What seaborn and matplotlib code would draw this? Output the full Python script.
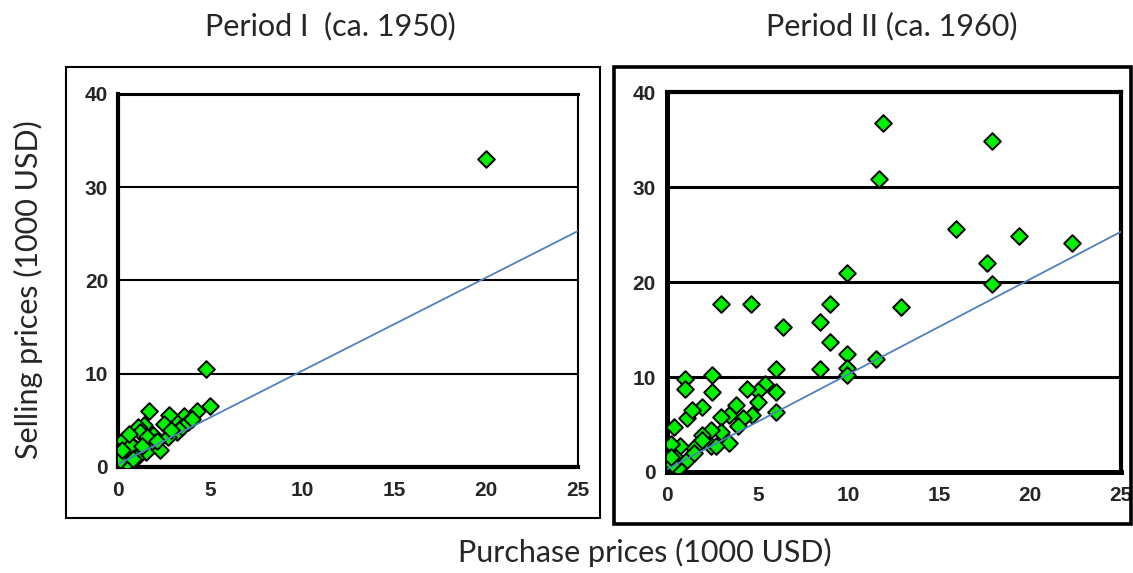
import seaborn as sns
import matplotlib.pyplot as plt
import pandas as pd
from matplotlib.patches import Rectangle

# Period I (ca. 1950): purchase vs selling prices, 1000 USD
p1_purchase = [20.0, 4.8, 5.0, 4.3, 1.7, 3.6, 3.0, 2.8, 2.5, 1.4, 1.1, 1.2, 1.9, 3.2,
               3.5, 2.7, 0.9, 0.3, 0.4, 1.9, 1.5, 0.5, 0.1, 1.6, 2.3, 0.7, 1.0, 2.1,
               0.2, 0.6, 3.8, 4.0, 2.9, 1.3, 0.8]
p1_selling = [33.0, 10.5, 6.5, 6.0, 6.0, 5.5, 5.1, 5.6, 4.6, 4.5, 4.3, 3.8, 3.4, 3.8,
              4.3, 3.2, 2.0, 2.9, 1.3, 2.6, 1.6, 0.4, 0.7, 3.2, 1.8, 2.4, 1.0, 2.8,
              1.8, 3.5, 4.8, 5.2, 4.0, 2.2, 0.9]

# Period II (ca. 1960)
p2_purchase = [11.9, 17.9, 11.7, 15.9, 19.4, 22.3, 17.6, 17.9, 9.9, 3.0, 4.6, 9.0,
               12.9, 6.4, 8.4, 9.0, 9.9, 11.5, 9.9, 9.9, 8.4, 6.0, 6.0, 6.0, 5.4,
               5.0, 5.0, 4.7, 4.4, 4.2, 3.8, 3.9, 3.4, 3.0, 3.0, 3.4, 2.5, 2.5, 2.4,
               1.9, 1.9, 1.0, 1.0, 1.1, 1.4, 1.5, 0.4, 0.7, 0.2, 0.5, 0.6, 1.1, 2.4,
               2.7, 1.9, 0.3, 0.2, 1.5]
p2_selling = [36.7, 34.8, 30.9, 25.6, 24.8, 24.1, 22.0, 19.8, 20.9, 17.7, 17.7, 17.7,
              17.4, 15.3, 15.8, 13.7, 12.4, 11.9, 10.9, 10.2, 10.8, 10.8, 8.4, 6.3,
              9.3, 8.5, 7.4, 6.0, 8.7, 5.7, 7.1, 4.8, 6.0, 5.8, 4.2, 3.1, 10.2, 8.4,
              4.4, 6.8, 3.9, 9.8, 8.7, 5.7, 6.5, 2.5, 4.7, 2.7, 2.9, 1.5, 0.4, 1.3,
              2.7, 2.7, 3.4, 0.8, 1.6, 2.0]

# reference line (selling = purchase)
line_x = [0, 25]
line_y = [0.3, 25.3]

x_ticks = [0, 5, 10, 15, 20, 25]
y_ticks = [0, 10, 20, 30, 40]

sns.set_style("white")
plt.rcParams['font.family'] = ['Liberation Sans', 'DejaVu Sans']
plt.rcParams['xtick.labelsize'] = 15
plt.rcParams['ytick.labelsize'] = 15
label_font = ["Lato", "DejaVu Sans"]

fig = plt.figure(figsize=(11.33, 5.73), dpi=100)

df1 = pd.DataFrame({"purchase": p1_purchase, "selling": p1_selling})
df2 = pd.DataFrame({"purchase": p2_purchase, "selling": p2_selling})
df_line = pd.DataFrame({"x": line_x, "y": line_y})

panels = [
    (df1, "Period I  (ca. 1950)", 0.292, [0.1041, 0.185, 0.406, 0.651], 1.5,
     [3, 3, 2.2, 1.5], 7, 10),
    (df2, "Period II (ca. 1960)", 0.787, [0.5887, 0.1763, 0.4007, 0.663], 2.2,
     [3.6, 3.6, 3, 3], 8, 10),
]

for df, title, tx, pos, grid_lw, spine_lw, ypad, xpad in panels:
    ax = fig.add_axes(pos)
    sns.scatterplot(data=df, x="purchase", y="selling", ax=ax, marker="D", s=72,
                    color="#00F000", edgecolor="black", linewidth=1.4, zorder=3)
    sns.lineplot(data=df_line, x="x", y="y", ax=ax, color="#4F81BD", linewidth=1.3,
                 zorder=4)
    ax.set_xlim(0, 25)
    ax.set_ylim(0, 40)
    ax.set_xticks(x_ticks)
    ax.set_yticks(y_ticks)
    ax.set_xlabel("")
    ax.set_ylabel("")
    ax.yaxis.grid(True, color="black", linewidth=grid_lw)
    ax.xaxis.grid(False)
    ax.set_axisbelow(True)
    for side, lw in zip(["left", "bottom", "top", "right"], spine_lw):
        ax.spines[side].set_visible(True)
        ax.spines[side].set_color("black")
        ax.spines[side].set_linewidth(lw)
    ax.tick_params(axis="y", length=0, pad=ypad, labelsize=15)
    ax.tick_params(axis="x", length=0, pad=xpad, labelsize=15)
    for lab in ax.get_xticklabels() + ax.get_yticklabels():
        lab.set_fontsize(15)
        lab.set_fontweight("bold")
    fig.text(tx, 0.955, title, ha="center", va="center", fontsize=22,
             family=label_font)

# outer frames around each panel
fig.add_artist(Rectangle((0.0583, 0.096), 0.4713, 0.787, transform=fig.transFigure,
                         fill=False, edgecolor="black", linewidth=1.5))
fig.add_artist(Rectangle((0.542, 0.0855), 0.456, 0.7975, transform=fig.transFigure,
                         fill=False, edgecolor="black", linewidth=2.6))

fig.text(0.025, 0.494, "Selling prices (1000 USD)", rotation=90, ha="center",
         va="center", fontsize=22, family=label_font)
fig.text(0.569, 0.035, "Purchase prices (1000 USD)", ha="center", va="center",
         fontsize=22, family=label_font)

plt.savefig("out.png", dpi=100)
